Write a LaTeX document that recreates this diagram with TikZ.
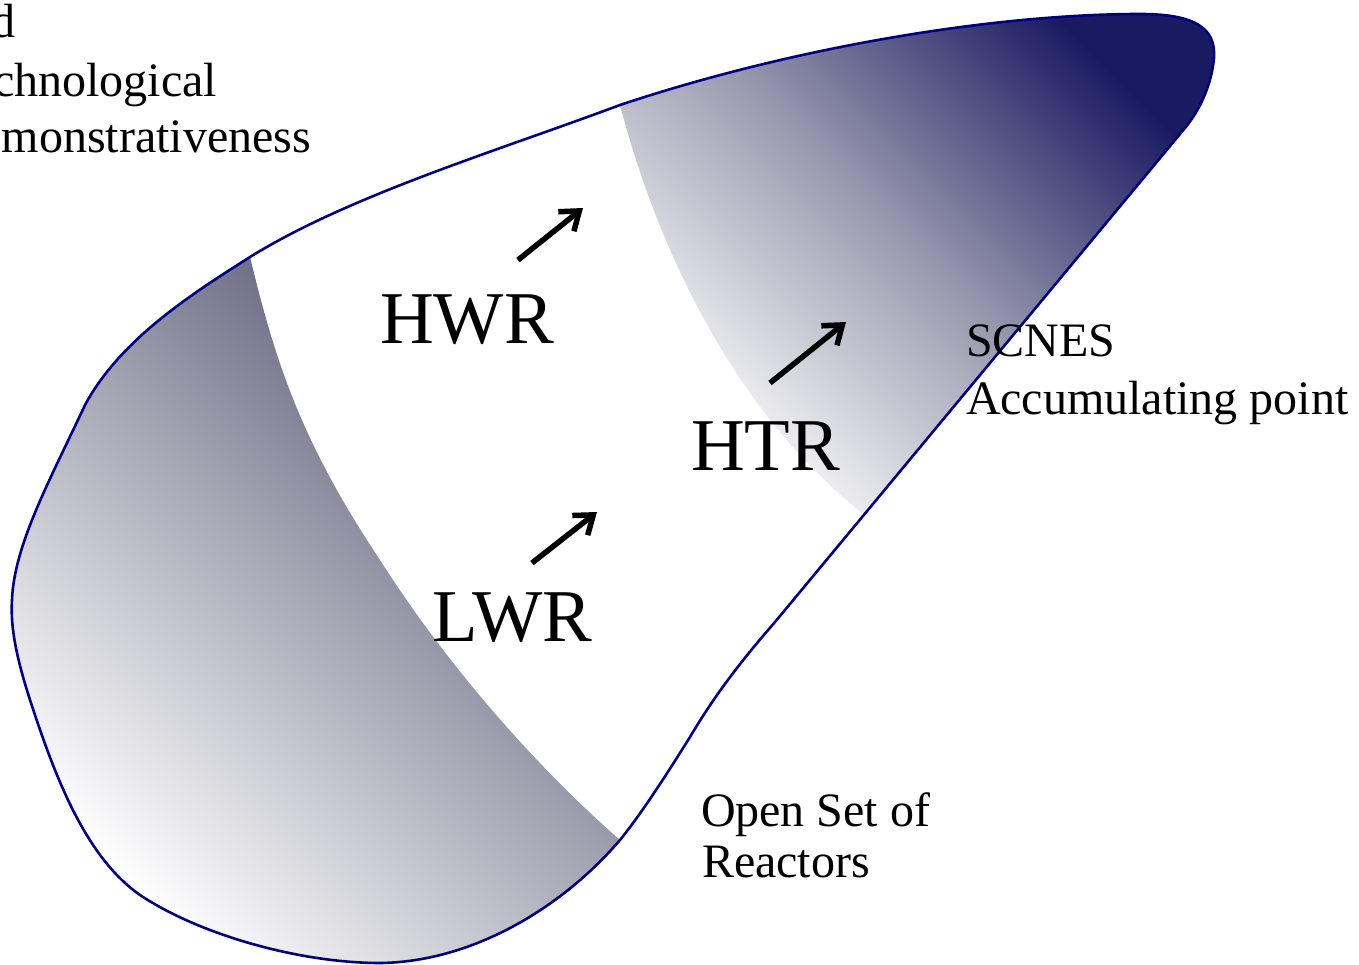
\documentclass[tikz,border=0pt]{standalone}
\usepackage{fontspec}
\setmainfont{Liberation Serif}
\usetikzlibrary{arrows.meta}
\definecolor{outl}{RGB}{0,0,128}
\definecolor{darkR}{RGB}{26,26,98}
\definecolor{midR}{RGB}{155,155,176}
\definecolor{darkL}{RGB}{76,76,108}
\definecolor{midL}{RGB}{168,168,182}
\tikzset{
  lbl/.style={inner sep=0pt, outer sep=0pt, anchor=base west, text=black},
  big/.style={lbl, font=\fontsize{74.5}{80}\selectfont},
  small/.style={lbl, font=\fontsize{48}{56}\selectfont},
  trend/.style={line width=5.5pt, black, -{Straight Barb[length=17pt,width=25pt]}},
}
\begin{document}
\begin{tikzpicture}[x=1pt,y=-1pt]
\useasboundingbox (0,0) rectangle (1359,965);
\fill[white] (0,0) rectangle (1359,965);
\clip (0,0) rectangle (1359,965);

% outline of the open set
\path[save path=\outlpath]
  (250,257) .. controls (350,195) and (500,150) .. (620,105)
  .. controls (800,45) and (1000,14) .. (1140,14)
  .. controls (1195,14) and (1216,28) .. (1214,58)
  .. controls (1212,80) and (1203,106) .. (1185,128)
  -- (775,622)
  .. controls (735,668) and (712,700) .. (690,737)
  .. controls (660,785) and (640,815) .. (620,840)
  .. controls (560,910) and (470,962) .. (380,963)
  .. controls (300,963) and (200,935) .. (140,895)
  .. controls (90,860) and (60,790) .. (35,715)
  .. controls (18,665) and (10,630) .. (12,600)
  .. controls (14,545) and (50,480) .. (85,405)
  .. controls (120,340) and (190,295) .. (250,257) -- cycle;

% left shaded band
\begin{scope}
 \clip[use path=\outlpath];
 \clip (240,200) -- (250,257) .. controls (275,360) and (300,440) .. (380,560)
   .. controls (450,670) and (540,770) .. (620,840)
   -- (700,920) -- (700,1000) -- (-50,1000) -- (-50,200) -- cycle;
 \shade[top color=darkL, bottom color=white, middle color=midL, shading angle=-45]
   (10,257) rectangle (620,963);
\end{scope}

% right shaded band
\begin{scope}
 \clip[use path=\outlpath];
 \clip (612,70) -- (620,105) .. controls (650,220) and (720,400) .. (862,513)
   -- (900,550) -- (1400,550) -- (1400,-50) -- (612,-50) -- cycle;
 \shade[top color=darkR, bottom color=white, middle color=midR, shading angle=-45]
   (620,14) rectangle (1218,513);
\end{scope}

\draw[outl, line width=2.6pt, use path=\outlpath];

% arrows
\coordinate (a1s) at (518,260); \coordinate (a1e) at (583,208);
\coordinate (a2s) at (770,383); \coordinate (a2e) at (846,322);
\coordinate (a3s) at (532,563); \coordinate (a3e) at (597,512);
\draw[trend] (a1s) -- (a1e);
\draw[trend] (a2s) -- (a2e);
\draw[trend] (a3s) -- (a3e);

% labels
\node[big] (hwr) at (380,343) {HWR};
\node[big] (htr) at (691,470) {HTR};
\node[big] (lwr) at (432,641) {LWR};
\node[small] (scnes) at (966,356) {SCNES};
\node[small] (accp) at (966,414) {Accumulating point};
\node[small] (open1) at (701,826) {Open Set of};
\node[small] (open2) at (702,877) {Reactors};
\node[small] (tl1) at (-54,38) {and};
\node[small] (tl2) at (-54,97) {Technological};
\node[small] (tl3) at (-54,153) {Demonstrativeness};
\end{tikzpicture}
\end{document}
